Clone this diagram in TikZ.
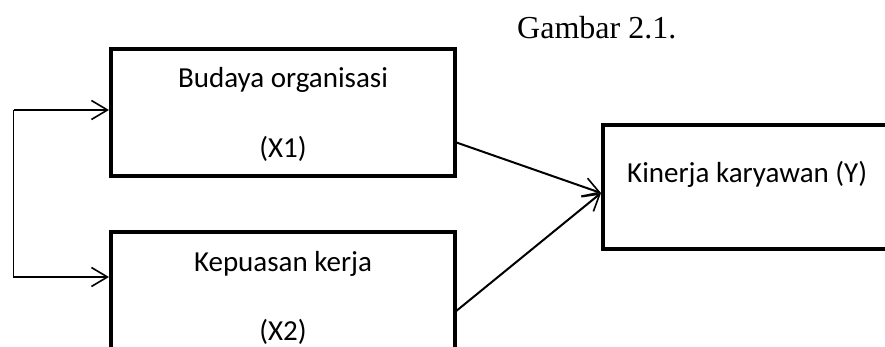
\documentclass[tikz,border=0pt]{standalone}
\usepackage{fontspec}
\setmainfont{Carlito}
\newfontfamily\timesfont{Liberation Serif}
\usetikzlibrary{arrows.meta}
\begin{document}
\begin{tikzpicture}[x=1pt,y=-1pt,
  boxstyle/.style={draw, line width=4pt, rectangle, inner sep=0pt},
  txt/.style={font=\fontsize{29}{34}\selectfont, inner sep=0pt},
  barb/.style={-{Straight Barb[length=16pt,width=19pt,line width=1.6pt]}}]
\useasboundingbox (0,0) rectangle (885,347);
\clip (0,0) rectangle (885,347);
\node[boxstyle, minimum width=344pt, minimum height=127pt] (b1) at (283,112.5) {};
\node[boxstyle, minimum width=344pt, minimum height=127pt] (b2) at (283,295.5) {};
\node[boxstyle, minimum width=320pt, minimum height=124pt] (b3) at (763,187) {};
\node[txt] (t1) at (283,80) {Budaya organisasi};
\node[txt] (t1b) at (283,149) {(X1)};
\node[txt] (t2) at (283,264) {Kepuasan kerja};
\node[txt] (t2b) at (283,332) {(X2)};
\node[txt, anchor=west] (t3) at (627,174) {Kinerja karyawan (Y)};
\node[font=\timesfont\fontsize{32}{37}\selectfont, inner sep=0pt, anchor=west] (cap) at (517,28) {Gambar 2.1.};
\coordinate (c1) at (13.5,110);
\coordinate (c2) at (13.5,277);
\draw[line width=1.6pt, barb] (c1) -- (b1.west |- c1);
\draw[line width=1.6pt, barb] (c1) -- (c2) -- (b2.west |- c2);
\coordinate (tip) at (601,193);
\coordinate (s1) at (455,142);
\coordinate (s2) at (455,312);
\draw[line width=2pt, barb] (s1) -- (tip);
\draw[line width=2pt, barb] (s2) -- (tip);
\end{tikzpicture}
\end{document}
